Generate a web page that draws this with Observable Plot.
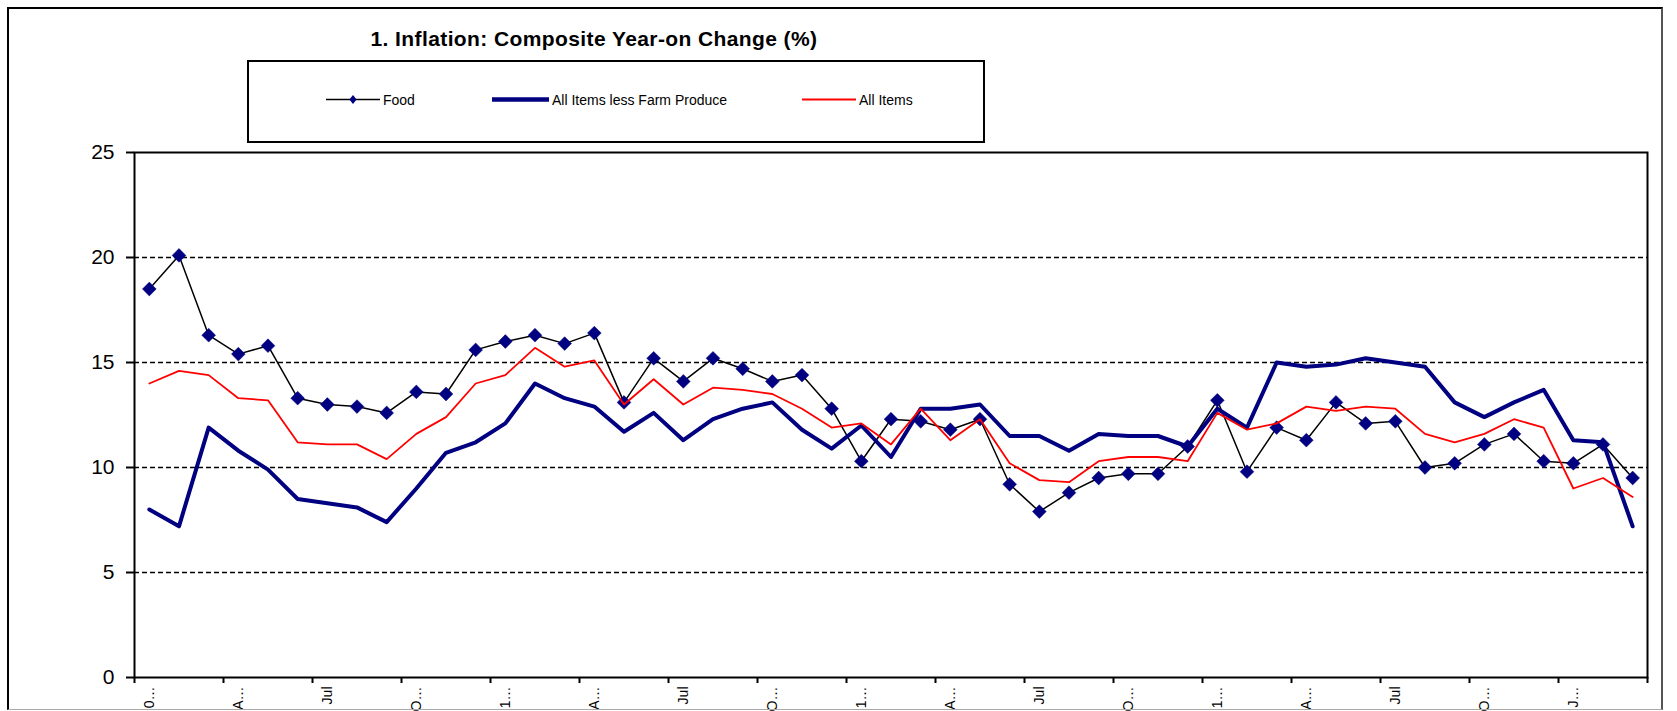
<!DOCTYPE html>
<html><head><meta charset="utf-8">
<script src="https://cdn.jsdelivr.net/npm/d3@7"></script>
<script src="https://cdn.jsdelivr.net/npm/@observablehq/plot@0.6"></script>
<style>
body{margin:0;background:#fff;font-family:"Liberation Sans",Arial,sans-serif;}
#wrap{position:relative;width:1677px;height:711px;overflow:hidden;background:#fff;}
#frame{position:absolute;left:7px;top:7px;width:1656px;height:703px;border-left:2px solid #000;border-top:2px solid #000;border-right:2px solid #555;border-bottom:1px solid #aaa;box-sizing:border-box;pointer-events:none;}
#head{position:absolute;left:0;top:0;}
#chart{position:absolute;left:0;top:143px;}
</style></head>
<body><div id="wrap"><svg id="head" width="1677" height="143"></svg><div id="chart"></div><div id="frame"></div></div>
<script>
// Series values (year-on change, %)
const food = [18.5, 20.1, 16.3, 15.4, 15.8, 13.3, 13.0, 12.9, 12.6, 13.6, 13.5, 15.6, 16.0, 16.3, 15.9, 16.4, 13.1, 15.2, 14.1, 15.2, 14.7, 14.1, 14.4, 12.8, 10.3, 12.3, 12.2, 11.8, 12.3, 9.2, 7.9, 8.8, 9.5, 9.7, 9.7, 11.0, 13.2, 9.8, 11.9, 11.3, 13.1, 12.1, 12.2, 10.0, 10.2, 11.1, 11.6, 10.3, 10.2, 11.1, 9.5];
const allLessFarm = [8.0, 7.2, 11.9, 10.8, 9.9, 8.5, 8.3, 8.1, 7.4, 9.0, 10.7, 11.2, 12.1, 14.0, 13.3, 12.9, 11.7, 12.6, 11.3, 12.3, 12.8, 13.1, 11.8, 10.9, 12.0, 10.5, 12.8, 12.8, 13.0, 11.5, 11.5, 10.8, 11.6, 11.5, 11.5, 11.0, 12.8, 11.9, 15.0, 14.8, 14.9, 15.2, 15.0, 14.8, 13.1, 12.4, 13.1, 13.7, 11.3, 11.2, 7.2];
const allItems = [14.0, 14.6, 14.4, 13.3, 13.2, 11.2, 11.1, 11.1, 10.4, 11.6, 12.4, 14.0, 14.4, 15.7, 14.8, 15.1, 13.0, 14.2, 13.0, 13.8, 13.7, 13.5, 12.8, 11.9, 12.1, 11.1, 12.8, 11.3, 12.3, 10.2, 9.4, 9.3, 10.3, 10.5, 10.5, 10.3, 12.6, 11.8, 12.1, 12.9, 12.7, 12.9, 12.8, 11.6, 11.2, 11.6, 12.3, 11.9, 9.0, 9.5, 8.6];
const seriesNames = ["Food", "All Items less Farm Produce", "All Items"];
// Category-axis labels (shown every third period, truncated as in the original)
const tickLabels = ["0…", "A…", "Jul", "O…", "1…", "A…", "Jul", "O…", "1…", "A…", "Jul", "O…", "1…", "A…", "Jul", "O…", "J…"];
const yTicks = [0, 5, 10, 15, 20, 25];
const gridValues = [5, 10, 15, 20];
const chartTitle = "1. Inflation: Composite Year-on Change (%)";

const n = food.length;
const rows = (arr) => arr.map((v, i) => ({i, v}));
const foodRows = rows(food), lessRows = rows(allLessFarm), allRows = rows(allItems);
const labelPos = tickLabels.map((_, k) => k * 3);
const labelMap = new Map(labelPos.map((p, k) => [p, tickLabels[k]]));
const boundaries = d3.range(-0.5, n, 3);

const FONT = "Liberation Sans, Arial, sans-serif";
const NAVY = "#000080";

const plot = Plot.plot({
  width: 1677, height: 568,
  marginLeft: 134, marginRight: 30, marginTop: 9, marginBottom: 34,
  style: {fontFamily: FONT, background: "transparent", color: "#000", overflow: "visible"},
  x: {domain: [-0.5, n - 0.5]},
  y: {domain: [0, 25]},
  marks: [
    Plot.ruleY(gridValues, {stroke: "#000", strokeWidth: 1.6, strokeDasharray: "5,3"}),
    Plot.axisY({ticks: yTicks, tickSize: 8, tickPadding: 12, fontSize: 21, label: null, strokeWidth: 2}),
    Plot.axisX({ticks: boundaries, tickSize: 6, tickFormat: () => "", label: null, strokeWidth: 2}),
    Plot.axisX({ticks: labelPos, tickSize: 0, tickPadding: 9, tickRotate: -90, tickFormat: d => labelMap.get(d), fontSize: 14, label: null}),
    Plot.line(foodRows, {x: "i", y: "v", stroke: "#000", strokeWidth: 1.5}),
    Plot.dot(foodRows, {x: "i", y: "v", symbol: "diamond2", r: 6.2, fill: NAVY, stroke: NAVY, strokeWidth: 0.5}),
    Plot.line(lessRows, {x: "i", y: "v", stroke: NAVY, strokeWidth: 4}),
    Plot.line(allRows, {x: "i", y: "v", stroke: "#ff0000", strokeWidth: 1.8}),
    Plot.frame({stroke: "#000", strokeWidth: 2})
  ]
});
document.getElementById("chart").appendChild(plot);

// Title and legend
const head = d3.select("#head");
head.append("text").attr("x", 594).attr("y", 46).attr("text-anchor", "middle")
  .attr("font-family", FONT).attr("font-weight", "bold").attr("font-size", 21).attr("letter-spacing", 0.4)
  .text(chartTitle);
head.append("rect").attr("x", 248).attr("y", 61).attr("width", 736).attr("height", 81)
  .attr("fill", "none").attr("stroke", "#000").attr("stroke-width", 2);
const ly = 99.5;
const legendItems = [
  {name: seriesNames[0], x0: 326, x1: 380, stroke: "#000", sw: 1.5, diamond: true},
  {name: seriesNames[1], x0: 492, x1: 549, stroke: NAVY, sw: 4.5, diamond: false},
  {name: seriesNames[2], x0: 802, x1: 856, stroke: "#ff0000", sw: 2, diamond: false}
];
for (const it of legendItems) {
  head.append("line").attr("x1", it.x0).attr("x2", it.x1).attr("y1", ly).attr("y2", ly)
    .attr("stroke", it.stroke).attr("stroke-width", it.sw);
  if (it.diamond) {
    const cx = (it.x0 + it.x1) / 2, s = 4.5;
    head.append("path").attr("d", `M${cx},${ly - s}L${cx + s * 0.8},${ly}L${cx},${ly + s}L${cx - s * 0.8},${ly}Z`).attr("fill", NAVY);
  }
  head.append("text").attr("x", it.x1 + 3).attr("y", ly + 5).attr("font-family", FONT)
    .attr("font-size", 14).text(it.name);
}
</script>
</body></html>
